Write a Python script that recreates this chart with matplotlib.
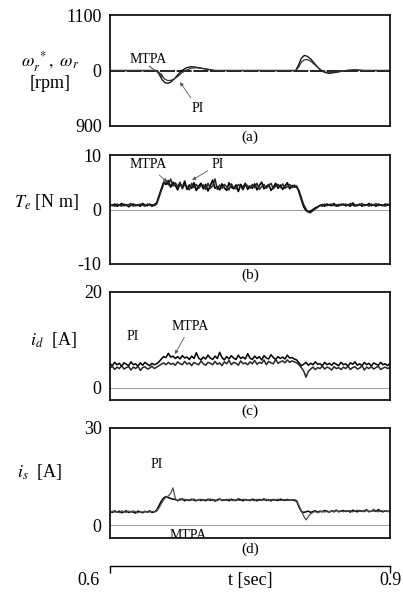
import numpy as np
import matplotlib
matplotlib.use("Agg")
import matplotlib.pyplot as plt

# ── Data ──────────────────────────────────────────────────────
# (a) speed, rpm
t_a = [0.600, 0.650, 0.653, 0.656, 0.659, 0.662, 0.665, 0.669, 0.673, 0.677,
       0.682, 0.687, 0.692, 0.698, 0.705, 0.712, 0.720, 0.760, 0.799, 0.802,
       0.805, 0.808, 0.811, 0.815, 0.819, 0.823, 0.827, 0.831, 0.835, 0.840,
       0.846, 0.853, 0.862, 0.872, 0.900]
spd_mtpa = [1000, 1000, 992, 983, 978, 977, 979, 985, 993, 1000,
            1005, 1007, 1006, 1004, 1002, 1000, 1000, 1000, 1000, 1010,
            1022, 1027, 1026, 1021, 1013, 1005, 999, 996, 995, 996,
            998, 1000, 1001, 1000, 1000]
spd_pi = [1000, 1000, 996, 989, 984, 982, 982, 985, 990, 996,
          1001, 1004, 1005, 1004, 1002, 1000, 1000, 1000, 1000, 1006,
          1015, 1019, 1020, 1017, 1011, 1005, 1000, 997, 996, 997,
          998, 1000, 1001, 1000, 1000]
t_ref = [0.6, 0.9]
spd_ref = [1000, 1000]

# sample times for (b)-(d): 0.6 .. 0.9, step 2.5 ms
t = np.linspace(0.6, 0.9, 121)

# (b) torque, N m
te_mtpa = [0.9, 0.7, 1.0, 0.6, 0.8, 1.1, 0.7, 0.9, 0.5, 0.8, 1.0, 0.7, 0.9, 0.6, 1.1, 0.8, 0.7, 1.0, 0.6, 0.9,
           1.2, 2.5, 3.8, 5.0, 4.6, 5.3, 4.1, 5.0, 4.4, 3.6, 4.8, 4.0, 5.2, 3.7, 4.5, 3.9, 4.9, 3.5, 4.3, 4.8,
           3.8, 4.6, 3.4, 4.4, 5.4, 3.9, 4.2, 3.6, 4.7, 4.0, 3.5, 4.9, 4.1, 3.8, 4.5, 3.3, 4.6, 4.0, 4.8, 3.7,
           4.3, 3.9, 4.7, 3.6, 4.4, 5.0, 3.8, 4.2, 4.6, 3.5, 4.1, 4.8, 3.9, 4.5, 3.7, 4.3, 4.9, 3.8, 4.4, 4.1,
           4.3, 3.2, 1.8, 0.5, -0.2, -0.4, -0.3, 0.0, 0.3, 0.5, 0.7, 0.9, 0.6, 1.0, 0.8, 0.7, 1.1, 0.6, 0.9, 0.8,
           1.0, 0.7, 0.9, 0.6, 1.2, 0.8, 0.7, 1.0, 0.6, 0.9, 0.8, 1.1, 0.7, 0.9, 0.6, 1.0, 0.8, 0.7, 1.0, 0.8, 0.9]
te_pi = [0.7, 0.9, 0.6, 1.0, 0.8, 0.6, 1.0, 0.7, 0.9, 1.1, 0.6, 0.9, 0.7, 1.0, 0.8, 0.6, 1.0, 0.8, 0.9, 0.7,
         1.0, 2.2, 3.5, 4.6, 5.4, 4.5, 5.6, 4.3, 4.9, 4.2, 5.0, 3.8, 4.6, 4.2, 3.6, 4.8, 4.0, 4.6, 3.9, 4.4,
         4.5, 3.7, 4.8, 3.9, 4.3, 5.6, 3.7, 4.5, 3.9, 4.6, 4.2, 3.6, 4.7, 4.0, 3.8, 4.6, 4.2, 3.6, 4.5, 4.4,
         3.9, 4.6, 4.0, 4.8, 3.7, 4.2, 4.6, 3.9, 4.4, 4.8, 3.8, 4.3, 4.6, 4.0, 4.7, 3.9, 4.2, 4.6, 4.0, 4.5,
         4.0, 3.5, 2.2, 0.9, 0.1, -0.5, -0.6, -0.2, 0.1, 0.4, 0.8, 0.6, 1.0, 0.7, 0.9, 1.0, 0.7, 0.9, 0.6, 1.0,
         0.8, 1.0, 0.7, 1.1, 0.8, 0.6, 0.9, 0.8, 1.1, 0.7, 0.9, 0.6, 1.0, 0.8, 1.1, 0.7, 0.9, 0.8, 0.6, 1.0, 0.8]

# (c) d-axis current, A
id_mtpa = [5.0, 4.6, 5.3, 4.8, 5.1, 4.5, 5.2, 4.9, 4.6, 5.4, 4.8, 5.0, 4.5, 5.2, 4.7, 5.3, 4.9, 4.6, 5.1, 4.8,
           5.0, 5.4, 6.0, 6.5, 6.3, 7.2, 6.4, 6.6, 6.1, 6.5, 6.0, 6.7, 6.2, 6.4, 5.9, 6.6, 6.1, 7.3, 6.2, 5.8,
           6.4, 6.0, 6.8, 6.2, 5.9, 6.6, 6.1, 7.4, 6.3, 5.8, 6.5, 6.0, 6.7, 6.2, 5.9, 6.8, 6.1, 6.4, 6.0, 7.1,
           6.2, 5.9, 6.6, 6.1, 6.5, 5.8, 6.7, 6.2, 6.0, 6.9, 6.3, 5.9, 6.5, 6.1, 6.4, 6.0, 6.8, 6.2, 6.3, 6.0,
           5.8, 5.2, 4.6, 4.9, 5.3, 4.7, 5.1, 4.8, 5.4, 4.9, 5.0, 4.6, 5.3, 4.8, 5.1, 4.7, 5.2, 4.9, 4.6, 5.3,
           4.8, 5.0, 4.5, 5.2, 4.9, 5.4, 4.7, 5.0, 4.6, 5.3, 4.8, 5.1, 4.5, 5.2, 4.9, 4.7, 5.3, 4.8, 5.0, 4.6, 5.1]
id_pi = [4.1, 4.5, 3.8, 4.3, 4.0, 4.6, 3.9, 4.2, 4.4, 3.7, 4.3, 4.0, 4.5, 3.6, 4.2, 4.4, 3.9, 4.1, 4.5, 4.0,
         4.3, 4.6, 4.9, 5.2, 4.8, 5.3, 4.9, 5.1, 4.7, 5.4, 5.0, 4.8, 5.5, 4.9, 5.2, 4.6, 5.3, 5.0, 4.8, 5.6,
         5.0, 4.7, 5.3, 5.1, 4.8, 5.5, 4.9, 5.2, 4.6, 5.4, 5.0, 5.7, 4.8, 5.3, 5.1, 4.7, 5.6, 5.0, 5.2, 4.8,
         5.4, 5.0, 5.7, 4.9, 5.3, 5.1, 5.8, 4.8, 5.5, 5.2, 5.0, 5.9, 5.1, 5.4, 5.6, 5.2, 5.8, 5.3, 5.6, 5.4,
         5.2, 4.8, 4.2, 3.5, 2.2, 3.4, 3.9, 4.3, 3.8, 4.2, 4.0, 4.5, 3.9, 4.3, 4.1, 3.7, 4.4, 4.0, 4.2, 3.8,
         4.3, 4.0, 4.5, 3.8, 4.2, 4.4, 3.9, 4.1, 4.6, 3.7, 4.3, 4.0, 4.4, 3.9, 4.2, 4.5, 3.8, 4.1, 4.3, 4.0, 4.2]

# (d) stator current magnitude, A
is_mtpa = [4.2, 3.9, 4.4, 4.0, 4.3, 3.8, 4.1, 4.4, 3.9, 4.2, 4.0, 3.7, 4.3, 4.1, 3.8, 4.2, 4.0, 4.4, 3.9, 4.1,
           4.6, 6.0, 7.4, 8.4, 8.8, 8.5, 8.2, 8.0, 7.9, 7.6, 7.8, 8.1, 7.5, 7.8, 7.6, 8.0, 7.7, 7.5, 7.9, 7.6,
           7.8, 7.5, 8.0, 7.6, 7.9, 7.4, 7.8, 8.1, 7.6, 7.7, 7.9, 7.5, 8.0, 7.7, 7.6, 8.1, 7.8, 7.5, 7.9, 7.7,
           7.6, 8.0, 7.8, 7.5, 7.9, 7.7, 8.1, 7.6, 7.8, 7.5, 7.9, 7.7, 7.6, 8.0, 7.8, 7.6, 7.9, 7.7, 7.8, 7.6,
           7.4, 5.6, 4.2, 3.9, 4.1, 4.3, 3.9, 4.2, 4.4, 4.0, 4.3, 4.1, 4.5, 4.2, 4.0, 4.4, 4.2, 4.6, 4.1, 4.3,
           4.5, 4.2, 4.4, 4.0, 4.6, 4.3, 4.1, 4.5, 4.2, 4.4, 4.7, 4.1, 4.3, 4.5, 4.2, 4.8, 4.3, 4.1, 4.4, 4.2, 4.3]
is_pi = [3.9, 4.3, 4.0, 4.2, 3.8, 4.4, 4.1, 3.9, 4.3, 4.0, 4.4, 4.1, 3.8, 4.2, 4.0, 4.3, 3.9, 4.1, 4.2, 4.0,
         4.3, 5.3, 6.6, 7.8, 8.6, 9.0, 9.8, 11.5, 8.2, 7.4, 8.2, 7.7, 8.0, 7.6, 7.9, 7.7, 8.1, 7.6, 7.8, 8.0,
         7.6, 7.9, 7.7, 8.1, 7.6, 7.8, 7.5, 8.0, 7.7, 7.9, 7.6, 8.0, 7.7, 7.5, 7.9, 7.7, 7.6, 8.0, 7.8, 7.6,
         7.9, 7.7, 7.5, 8.0, 7.6, 7.8, 7.7, 8.0, 7.5, 7.9, 7.7, 7.8, 8.0, 7.6, 7.7, 7.9, 7.6, 7.8, 7.7, 7.9,
         7.6, 6.0, 4.4, 2.8, 1.6, 2.6, 3.5, 3.9, 4.2, 3.8, 4.1, 4.3, 4.0, 4.4, 4.1, 4.3, 4.0, 4.5, 4.2, 4.4,
         4.1, 4.4, 4.2, 4.5, 4.1, 4.3, 4.6, 4.2, 4.4, 4.1, 4.5, 4.3, 4.2, 4.9, 4.3, 4.1, 4.5, 4.3, 4.4, 4.2, 4.3]

# ── Style ─────────────────────────────────────────────────────
plt.rcParams.update({
    "font.family"      : "serif",
    "font.serif"       : ["Liberation Serif", "DejaVu Serif"],
    "mathtext.fontset" : "stix",
    "font.size"        : 13,
})

W, H = 403, 595
fig = plt.figure(figsize=(W / 100, H / 100), dpi=100)

def px_axes(top, bottom, left=110, right=390):
    return fig.add_axes([left / W, 1 - bottom / H, (right - left) / W, (bottom - top) / H])

def frame(ax, ylim, yticks, yticklabels, tag):
    ax.set_xlim(0.6, 0.9)
    ax.set_ylim(*ylim)
    ax.set_xticks([])
    ax.set_yticks(yticks)
    ax.set_yticklabels(yticklabels)
    ax.tick_params(axis="y", length=0, pad=6, labelsize=13)
    for s in ax.spines.values():
        s.set_linewidth(1.2)
    ax.text(0.5, -0.04, tag, transform=ax.transAxes, ha="center", va="top", fontsize=11)

arrow = dict(arrowstyle="-|>", lw=0.6, color="0.35", mutation_scale=5, shrinkA=1, shrinkB=0)

# (a) speed
ax_a = px_axes(15, 126)
ax_a.plot(t_ref, spd_ref, color="black", lw=1.2, linestyle=(0, (9, 1)))
ax_a.plot(t_a, spd_mtpa, color="black", lw=0.9)
ax_a.plot(t_a, spd_pi, color="0.2", lw=0.9)
frame(ax_a, (900, 1100), [900, 1000, 1100], ["900", "0", "1100"], "(a)")
ax_a.text(0.6407, 1019, "MTPA", ha="center", va="center", fontsize=10)
ax_a.annotate("", xy=(0.6575, 988), xytext=(0.6420, 1008),
              arrowprops=dict(arrowstyle="-|>", lw=0.7, color="0.25", mutation_scale=5,
                              shrinkA=0, shrinkB=0))
ax_a.annotate("PI", xy=(0.675, 979), xytext=(0.6943, 932), ha="center", va="center",
              fontsize=10, arrowprops=arrow)

# (b) torque
ax_b = px_axes(155, 264)
ax_b.axhline(0, color="0.55", lw=0.6)
ax_b.plot(t, te_mtpa, color="black", lw=1.2)
ax_b.plot(t, te_pi, color="0.15", lw=1.1)
frame(ax_b, (-10, 10), [-10, 0, 10], ["-10", "0", "10"], "(b)")
ax_b.annotate("MTPA", xy=(0.6611, 5.05), xytext=(0.6407, 8.2), ha="center", va="center",
              fontsize=10, arrowprops=arrow)
ax_b.annotate("PI", xy=(0.6879, 5.4), xytext=(0.7157, 8.2), ha="center", va="center",
              fontsize=10, arrowprops=arrow)

# (c) d-axis current
ax_c = px_axes(292, 400)
ax_c.axhline(0, color="0.55", lw=0.6)
ax_c.plot(t, id_mtpa, color="black", lw=1.1)
ax_c.plot(t, id_pi, color="0.15", lw=1.1)
frame(ax_c, (-2.57, 20), [0, 20], ["0", "20"], "(c)")
ax_c.text(0.6246, 10.6, "PI", ha="center", va="center", fontsize=10)
ax_c.annotate("MTPA", xy=(0.6696, 7.0), xytext=(0.6857, 12.7), ha="center", va="center",
              fontsize=10, arrowprops=arrow)

# (d) stator current
ax_d = px_axes(428, 538)
ax_d.axhline(0, color="0.55", lw=0.6)
ax_d.plot(t, is_mtpa, color="black", lw=1.1)
ax_d.plot(t, is_pi, color="0.3", lw=0.9)
frame(ax_d, (-4.0, 30), [0, 30], ["0", "30"], "(d)")
ax_d.text(0.6504, 18.6, "PI", ha="center", va="center", fontsize=10)
ax_d.text(0.6836, -3.2, "MTPA", ha="center", va="center", fontsize=10, clip_on=True)

# y-axis labels
fig.text(50 / W, 1 - 62 / H, r"$\omega_r^{\ *},\ \omega_r$", ha="center", va="center", fontsize=13)
fig.text(50 / W, 1 - 84 / H, "[rpm]", ha="center", va="center", fontsize=13)
fig.text(47 / W, 1 - 202 / H, r"$T_e$ [N m]", ha="center", va="center", fontsize=13)
fig.text(53 / W, 1 - 340 / H, r"$i_d$  [A]", ha="center", va="center", fontsize=13)
fig.text(40 / W, 1 - 472 / H, r"$i_s$  [A]", ha="center", va="center", fontsize=13)

# shared time axis
ax_t = fig.add_axes([110 / W, 1 - 567 / H, 280 / W, 0.001])
ax_t.set_xlim(0.6, 0.9)
for side in ("left", "right", "bottom"):
    ax_t.spines[side].set_visible(False)
ax_t.spines["top"].set_linewidth(1.0)
ax_t.set_yticks([])
ax_t.set_xticks([0.6, 0.9])
ax_t.set_xticklabels([])
ax_t.tick_params(axis="x", top=True, bottom=False, direction="in", length=5, width=1.0)
ax_t.text(0.5893, -9, "0.6", transform=ax_t.get_xaxis_transform(), ha="right", va="top")
ax_t.text(0.9, -9, "0.9", transform=ax_t.get_xaxis_transform(), ha="center", va="top")
ax_t.text(0.75, -9, "t [sec]", transform=ax_t.get_xaxis_transform(), ha="center", va="top")

fig.savefig("out.png", dpi=100)
